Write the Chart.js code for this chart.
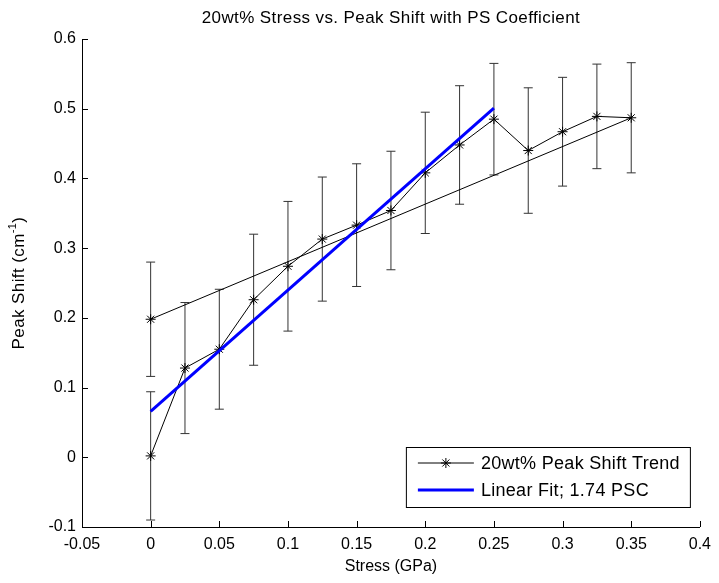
<!DOCTYPE html>
<html>
<head>
<meta charset="utf-8">
<script src="https://cdn.jsdelivr.net/npm/chart.js@4.4.0/dist/chart.umd.min.js"></script>
<style>
  html, body { margin: 0; padding: 0; background: #fff; }
  canvas { display: block; }
</style>
</head>
<body>
<canvas id="chart" width="719" height="583"></canvas>
<script>
// stress steps (GPa): loading up to 0.35 and a last reading back at 0
const stress = [0, 0.025, 0.05, 0.075, 0.1, 0.125, 0.15, 0.175, 0.2, 0.225, 0.25, 0.275, 0.3, 0.325, 0.35, 0];
const peakShift = [0.002, 0.128, 0.155, 0.226, 0.274, 0.313, 0.333, 0.354, 0.408, 0.448, 0.485, 0.440, 0.467, 0.489, 0.487, 0.198];
const peakError = [0.092, 0.094, 0.086, 0.094, 0.093, 0.089, 0.088, 0.085, 0.087, 0.085, 0.080, 0.090, 0.078, 0.075, 0.079, 0.082];

// linear fit (1.74 PSC) end points
const fitStress = [0, 0.25];
const fitShift = [0.066, 0.501];

const xTicks = [-0.05, 0, 0.05, 0.1, 0.15, 0.2, 0.25, 0.3, 0.35, 0.4];
const xTickLabels = ['-0.05', '0', '0.05', '0.1', '0.15', '0.2', '0.25', '0.3', '0.35', '0.4'];
const yTicks = [-0.1, 0, 0.1, 0.2, 0.3, 0.4, 0.5, 0.6];
const yTickLabels = ['-0.1', '0', '0.1', '0.2', '0.3', '0.4', '0.5', '0.6'];

const FONT = 'Liberation Sans, Arial, sans-serif';

// barras de error verticales con remates
const errorBars = {
    id: 'errorBars',
    beforeDatasetsDraw(chart) {
        const ctx = chart.ctx;
        const x = chart.scales.x, y = chart.scales.y;
        ctx.save();
        ctx.strokeStyle = '#333';
        ctx.lineWidth = 1;
        for (let i = 0; i < stress.length; i++) {
            const px = x.getPixelForValue(stress[i]);
            const top = y.getPixelForValue(peakShift[i] + peakError[i]);
            const bot = y.getPixelForValue(peakShift[i] - peakError[i]);
            ctx.beginPath();
            ctx.moveTo(px, top); ctx.lineTo(px, bot);
            ctx.moveTo(px - 4.5, top); ctx.lineTo(px + 4.5, top);
            ctx.moveTo(px - 4.5, bot); ctx.lineTo(px + 4.5, bot);
            ctx.stroke();
        }
        ctx.restore();
    }
};

// ticks hacia adentro, titulo y etiqueta del eje y, leyenda
const decorations = {
    id: 'decorations',
    afterDraw(chart) {
        const ctx = chart.ctx;
        const area = chart.chartArea;
        const xs = chart.scales.x, ys = chart.scales.y;
        ctx.save();
        ctx.strokeStyle = '#000';
        ctx.lineWidth = 1;
        ctx.beginPath();
        xs.ticks.forEach(t => {
            const px = Math.round(xs.getPixelForValue(t.value)) + 0.5;
            ctx.moveTo(px, area.bottom); ctx.lineTo(px, area.bottom - 6);
        });
        ys.ticks.forEach(t => {
            const py = Math.round(ys.getPixelForValue(t.value)) + 0.5;
            ctx.moveTo(area.left, py); ctx.lineTo(area.left + 6, py);
        });
        ctx.stroke();

        // titulo
        ctx.fillStyle = '#000';
        ctx.font = '17px ' + FONT;
        ctx.letterSpacing = '0.4px';
        ctx.textAlign = 'center';
        ctx.textBaseline = 'middle';
        ctx.fillText('20wt% Stress vs. Peak Shift with PS Coefficient', (area.left + area.right) / 2, 18);

        // eje y con superindice
        ctx.save();
        ctx.translate(19, (area.top + area.bottom) / 2);
        ctx.rotate(-Math.PI / 2);
        ctx.textAlign = 'left';
        ctx.textBaseline = 'middle';
        const big = '17px ' + FONT, small = '11px ' + FONT;
        ctx.font = big;
        const w1 = ctx.measureText('Peak Shift (cm').width;
        const w3 = ctx.measureText(')').width;
        ctx.font = small;
        const w2 = ctx.measureText('-1').width;
        let cx = -(w1 + w2 + w3) / 2;
        ctx.font = big;
        ctx.fillText('Peak Shift (cm', cx, 0);
        cx += w1;
        ctx.font = small;
        ctx.fillText('-1', cx, -6);
        cx += w2;
        ctx.font = big;
        ctx.fillText(')', cx, 0);
        ctx.restore();
        ctx.letterSpacing = '0px';

        // leyenda
        const boxW = 284, boxH = 60;
        const bx = area.right - 10 - boxW;
        const by = area.bottom - 20 - boxH;
        ctx.fillStyle = '#fff';
        ctx.fillRect(bx, by, boxW, boxH);
        ctx.strokeStyle = '#000';
        ctx.strokeRect(bx + 0.5, by + 0.5, boxW, boxH);
        ctx.font = '18px ' + FONT;
        ctx.letterSpacing = '0.3px';
        ctx.textAlign = 'left';
        ctx.textBaseline = 'middle';
        chart.data.datasets.forEach((ds, i) => {
            const ly = by + 16 + i * 27;
            ctx.strokeStyle = ds.borderColor;
            ctx.lineWidth = ds.borderWidth;
            ctx.beginPath();
            ctx.moveTo(bx + 12, ly); ctx.lineTo(bx + 68, ly);
            ctx.stroke();
            if (ds.pointRadius > 0) {
                Chart.helpers.drawPoint(ctx, {
                    pointStyle: ds.pointStyle, radius: ds.pointRadius, borderWidth: 1
                }, bx + 40, ly);
            }
            ctx.fillStyle = '#000';
            ctx.fillText(ds.label, bx + 75, ly + 1);
        });
        ctx.letterSpacing = '0px';
        ctx.restore();
    }
};

const ctx = document.getElementById('chart').getContext('2d');
new Chart(ctx, {
    type: 'scatter',
    data: {
        datasets: [{
            label: '20wt% Peak Shift Trend',
            data: stress.map((s, i) => ({ x: s, y: peakShift[i] })),
            showLine: true,
            borderColor: '#000',
            backgroundColor: '#000',
            borderWidth: 1,
            pointStyle: 'star',
            pointRadius: 5,
            pointBorderColor: '#000',
            pointBorderWidth: 1,
            tension: 0,
            order: 1
        }, {
            label: 'Linear Fit; 1.74 PSC',
            data: fitStress.map((s, i) => ({ x: s, y: fitShift[i] })),
            showLine: true,
            borderColor: '#0000ff',
            borderWidth: 3,
            pointRadius: 0,
            tension: 0,
            order: 0
        }]
    },
    options: {
        responsive: false,
        animation: false,
        devicePixelRatio: 1,
        layout: { padding: { top: 39, right: 16, left: 0, bottom: 0 } },
        plugins: {
            legend: { display: false },
            tooltip: { enabled: false },
            title: { display: false }
        },
        scales: {
            x: {
                type: 'linear',
                min: -0.05,
                max: 0.4,
                border: { color: '#000', width: 1 },
                grid: { display: false, drawTicks: false },
                afterBuildTicks: s => { s.ticks = xTicks.map(v => ({ value: v })); },
                afterFit: s => { s.height = 56; },
                ticks: {
                    color: '#000',
                    font: { family: FONT, size: 16 },
                    padding: 8,
                    maxRotation: 0,
                    callback: (v, i) => xTickLabels[i]
                },
                title: {
                    display: true,
                    text: 'Stress (GPa)',
                    color: '#000',
                    font: { family: FONT, size: 16 },
                    padding: { top: 0, bottom: 7 }
                }
            },
            y: {
                type: 'linear',
                min: -0.1,
                max: 0.6,
                border: { color: '#000', width: 1 },
                grid: { display: false, drawTicks: false },
                afterBuildTicks: s => { s.ticks = yTicks.map(v => ({ value: v })); },
                afterFit: s => { s.width = 82; },
                ticks: {
                    color: '#000',
                    font: { family: FONT, size: 16 },
                    padding: 6,
                    callback: (v, i) => yTickLabels[i]
                }
            }
        }
    },
    plugins: [errorBars, decorations]
});
</script>
</body>
</html>
